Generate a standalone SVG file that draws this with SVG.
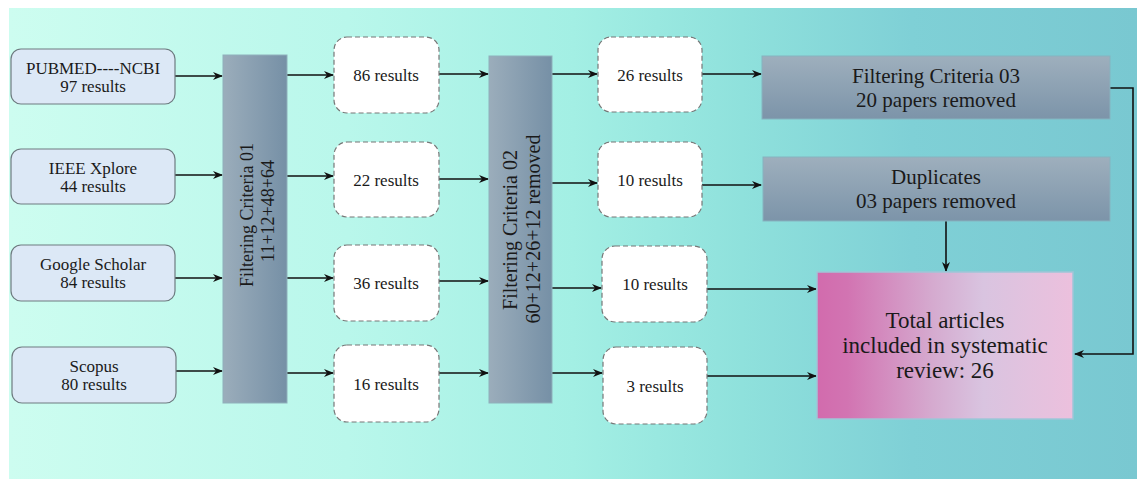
<svg xmlns="http://www.w3.org/2000/svg" width="1137" height="479" viewBox="0 0 1137 479">
<defs>
<linearGradient id="bg" x1="0" y1="0" x2="1" y2="0">
<stop offset="0" stop-color="#cdfdf0"/>
<stop offset="0.3" stop-color="#b9f7eb"/>
<stop offset="0.5" stop-color="#a3efe4"/>
<stop offset="0.65" stop-color="#8fe1dc"/>
<stop offset="0.8" stop-color="#7fd0d6"/>
<stop offset="1" stop-color="#79c8d1"/>
</linearGradient>
<linearGradient id="bar" x1="0" y1="0" x2="1" y2="0">
<stop offset="0" stop-color="#9badbb"/>
<stop offset="1" stop-color="#7690a6"/>
</linearGradient>
<linearGradient id="hbar" x1="0" y1="0" x2="0" y2="1">
<stop offset="0" stop-color="#9eafbd"/>
<stop offset="1" stop-color="#7c94a9"/>
</linearGradient>
<linearGradient id="total" x1="0" y1="0" x2="1" y2="0">
<stop offset="0" stop-color="#d26bad"/>
<stop offset="0.12" stop-color="#d274b2"/>
<stop offset="0.45" stop-color="#d5aacf"/>
<stop offset="0.65" stop-color="#d9c4e0"/>
<stop offset="1" stop-color="#ecc0dd"/>
</linearGradient>
<marker id="arr" markerWidth="10" markerHeight="8" refX="9" refY="4" orient="auto" markerUnits="userSpaceOnUse">
<path d="M0,0 L10,4 L0,8 L3,4 z" fill="#111"/>
</marker>
<style>
.t{font-family:"Liberation Serif","Times New Roman",serif;fill:#1a1a1a;text-anchor:middle}
.src{fill:#dce8f6;stroke:#6e7b80;stroke-width:1.2}
.mid{fill:#ffffff;stroke:#777;stroke-width:1.2;stroke-dasharray:5 3}
.bar{fill:url(#bar);stroke:#8fb0bb;stroke-width:1}
.hbar{fill:url(#hbar);stroke:#86b3bf;stroke-width:1}
.c{fill:none;stroke:#111;stroke-width:1.6}
.a{marker-end:url(#arr)}
</style>
</defs>
<rect x="9" y="8" width="1128" height="471" fill="url(#bg)"/>

<g id="connectors">
<path class="c a" d="M175,76 H222"/>
<path class="c a" d="M175,175 H222"/>
<path class="c a" d="M175,278 H222"/>
<path class="c a" d="M175,371 H222"/>
<path class="c a" d="M287,75 H333"/>
<path class="c a" d="M287,176 H333"/>
<path class="c a" d="M287,278 H333"/>
<path class="c a" d="M287,373 H333"/>
<path class="c a" d="M439,74 H488"/>
<path class="c a" d="M439,179 H488"/>
<path class="c a" d="M439,281 H488"/>
<path class="c a" d="M439,373 H488"/>
<path class="c a" d="M552,74 H597"/>
<path class="c a" d="M552,183 H597"/>
<path class="c a" d="M552,288 H601"/>
<path class="c a" d="M552,373 H602"/>
<path class="c a" d="M702,74 H761"/>
<path class="c a" d="M702,185 H761"/>
<path class="c a" d="M706,289 H816"/>
<path class="c a" d="M707,376 H816"/>
<path class="c a" d="M946,221 V271"/>
<path class="c a" d="M1110,88 H1133 V354 H1075"/>
</g>

<g id="pubmed">
<rect class="src" x="11" y="49" width="164" height="55" rx="10"/>
<text class="t" x="93" y="74" font-size="17">PUBMED----NCBI</text>
<text class="t" x="93" y="92" font-size="17">97 results</text>
</g>
<g id="ieee">
<rect class="src" x="11" y="149" width="164" height="55" rx="10"/>
<text class="t" x="93" y="174" font-size="17">IEEE Xplore</text>
<text class="t" x="93" y="192" font-size="17">44 results</text>
</g>
<g id="scholar">
<rect class="src" x="11" y="245" width="164" height="56" rx="10"/>
<text class="t" x="93" y="270" font-size="17">Google Scholar</text>
<text class="t" x="93" y="288" font-size="17">84 results</text>
</g>
<g id="scopus">
<rect class="src" x="12" y="347" width="164" height="56" rx="10"/>
<text class="t" x="94" y="372" font-size="17">Scopus</text>
<text class="t" x="94" y="390" font-size="17">80 results</text>
</g>

<g id="filter01">
<rect class="bar" x="223" y="55" width="64" height="348"/>
<text class="t" font-size="18" transform="translate(253,215) rotate(-90)">Filtering Criteria 01</text>
<text class="t" font-size="18" transform="translate(274,211) rotate(-90)">11+12+48+64</text>
</g>

<g id="r86">
<rect class="mid" x="334" y="37" width="105" height="76" rx="13"/>
<text class="t" x="386" y="81" font-size="17">86 results</text>
</g>
<g id="r22">
<rect class="mid" x="334" y="142" width="105" height="75" rx="13"/>
<text class="t" x="386" y="186" font-size="17">22 results</text>
</g>
<g id="r36">
<rect class="mid" x="334" y="245" width="105" height="76" rx="13"/>
<text class="t" x="386" y="289" font-size="17">36 results</text>
</g>
<g id="r16">
<rect class="mid" x="334" y="345" width="105" height="77" rx="13"/>
<text class="t" x="386" y="390" font-size="17">16 results</text>
</g>

<g id="filter02">
<rect class="bar" x="489" y="56" width="63" height="347"/>
<text class="t" font-size="20" transform="translate(517,230) rotate(-90)">Filtering Criteria 02</text>
<text class="t" font-size="20" transform="translate(540,229) rotate(-90)">60+12+26+12 removed</text>
</g>

<g id="c26">
<rect class="mid" x="598" y="37" width="104" height="75" rx="13"/>
<text class="t" x="650" y="81" font-size="17">26 results</text>
</g>
<g id="c10a">
<rect class="mid" x="598" y="142" width="104" height="75" rx="13"/>
<text class="t" x="650" y="186" font-size="17">10 results</text>
</g>
<g id="c10b">
<rect class="mid" x="602" y="246" width="105" height="76" rx="13"/>
<text class="t" x="655" y="290" font-size="17">10 results</text>
</g>
<g id="c3">
<rect class="mid" x="603" y="347" width="104" height="77" rx="13"/>
<text class="t" x="655" y="392" font-size="17">3 results</text>
</g>

<g id="filter03">
<rect class="hbar" x="762" y="56" width="348" height="63"/>
<text class="t" x="936" y="83" font-size="21">Filtering Criteria 03</text>
<text class="t" x="936" y="107" font-size="21">20 papers removed</text>
</g>
<g id="duplicates">
<rect class="hbar" x="763" y="157" width="347" height="64"/>
<text class="t" x="936" y="184" font-size="21">Duplicates</text>
<text class="t" x="936" y="208" font-size="21">03 papers removed</text>
</g>

<g id="total">
<rect x="817" y="272" width="256" height="147" fill="url(#total)" stroke="#9fc6d8" stroke-width="1.5"/>
<text class="t" x="945" y="328" font-size="23">Total articles</text>
<text class="t" x="945" y="353" font-size="23">included in systematic</text>
<text class="t" x="945" y="378" font-size="23">review: 26</text>
</g>
</svg>
